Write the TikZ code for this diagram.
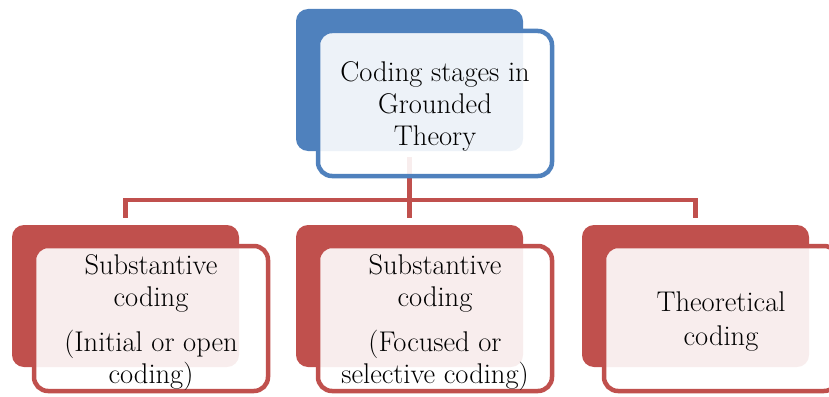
\documentclass[tikz,border=0pt]{standalone}
\usepackage{fontspec}
\definecolor{accblue}{HTML}{4F81BD}
\definecolor{accred}{HTML}{C0504D}
\tikzset{
  backbox/.style={fill=#1, draw=none, rounded corners=12pt,
    minimum width=227pt, minimum height=142pt, inner sep=0pt},
  frontbox/.style={draw=#1, line width=4.5pt, fill=white, fill opacity=0.9,
    rounded corners=14pt, minimum width=234pt,
    minimum height=145pt, inner sep=0pt},
  lbl/.style={align=center, inner sep=0pt,
    font=\fontsize{28.5}{32}\selectfont},
  link/.style={draw=accred, line width=4.5pt},
}
\begin{document}
\begin{tikzpicture}[x=1pt, y=-1pt]
  \useasboundingbox (0,0) rectangle (829,396);

  % back panels
  \node[backbox=accblue] (tb) at (409.5,80) {};
  \node[backbox=accred]  (lb) at (125.5,296) {};
  \node[backbox=accred]  (mb) at (409.5,296) {};
  \node[backbox=accred]  (rb) at (695.5,296) {};

  % connectors
  \coordinate (bar) at (409.5,200);
  \draw[link, shorten <=6pt, shorten >=7pt] (tb.south) -- (bar) -| (lb.north);
  \draw[link, shorten >=7pt] (bar) -| (rb.north);
  \draw[link, shorten >=7pt] (bar) -- (mb.north);

  % translucent front panels
  \node[frontbox=accblue] (tf) at (435,103.5) {};
  \node[frontbox=accred]  (lf) at (151,318.5) {};
  \node[frontbox=accred]  (mf) at (435,318.5) {};
  \node[frontbox=accred]  (rf) at (721,318.5) {};

  % labels
  \node[lbl] (tt) at ([yshift=-3pt]tf.center) {Coding stages in\\Grounded\\Theory};
  \node[lbl] (lt) at ([yshift=-4.5pt]lf.center)
    {Substantive\\coding\\[13pt](Initial or open\\coding)};
  \node[lbl] (mt) at ([yshift=-4.5pt]mf.center)
    {Substantive\\coding\\[13pt](Focused or\\selective coding)};
  \node[lbl] (rt) at ([yshift=-3.5pt]rf.center) {Theoretical\\[2pt]coding};
\end{tikzpicture}
\end{document}
